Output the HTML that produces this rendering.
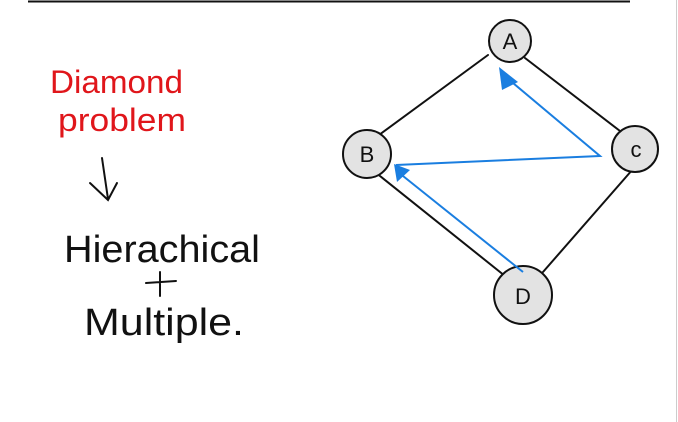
<!DOCTYPE html>
<html><head><meta charset="utf-8"><style>html,body{margin:0;padding:0;background:#fff;}svg{display:block}</style></head>
<body>
<svg width="678" height="422" viewBox="0 0 678 422" xmlns="http://www.w3.org/2000/svg">
<rect width="678" height="422" fill="#fff"/>
<line x1="28" y1="1.5" x2="630" y2="1.5" stroke="#111" stroke-width="2"/>
<line x1="676.5" y1="0" x2="676.5" y2="422" stroke="#ccc" stroke-width="1"/>
<g font-family="Liberation Sans, sans-serif" font-weight="300">
<text x="50" y="93" font-size="32" fill="#e0161b" textLength="133" lengthAdjust="spacingAndGlyphs">Diamond</text>
<text x="58" y="131" font-size="32" fill="#e0161b" textLength="128" lengthAdjust="spacingAndGlyphs">problem</text>
<text x="64" y="262" font-size="38" fill="#111" textLength="196" lengthAdjust="spacingAndGlyphs">Hierachical</text>
<text x="84" y="335" font-size="38" fill="#111" textLength="160" lengthAdjust="spacingAndGlyphs">Multiple.</text>
</g>
<g stroke="#111" stroke-width="2" fill="none" stroke-linecap="round">
<path d="M102 158 L108 199 M90 183 L108 200 L117 183"/>
<path d="M146 283 L176 281 M160 272 L160 296"/>
<line x1="488" y1="55" x2="379" y2="135"/>
<line x1="525" y1="58" x2="620" y2="131"/>
<line x1="375" y1="172" x2="505" y2="276"/>
<line x1="633" y1="169" x2="543" y2="272"/>
</g>
<g stroke="#111" stroke-width="2" fill="#e3e3e3">
<circle cx="510" cy="41" r="21"/>
<circle cx="367" cy="154" r="24"/>
<circle cx="635" cy="149" r="23"/>
<circle cx="523" cy="295" r="29"/>
</g>
<g font-family="Liberation Sans, sans-serif" font-size="22" fill="#111" text-anchor="middle" font-weight="300">
<text x="510" y="49">A</text>
<text x="367" y="162">B</text>
<text x="636" y="157">c</text>
<text x="523" y="304">D</text>
</g>
<g stroke="#1a7ee0" stroke-width="2" fill="none">
<polyline points="507,78 600,156 396,165"/>
<line x1="523" y1="272" x2="398" y2="172"/>
</g>
<g fill="#1a7ee0">
<polygon points="499,67 518,82 502,90"/>
<polygon points="394,164 410,170 397,182"/>
</g>
</svg>
</body></html>
